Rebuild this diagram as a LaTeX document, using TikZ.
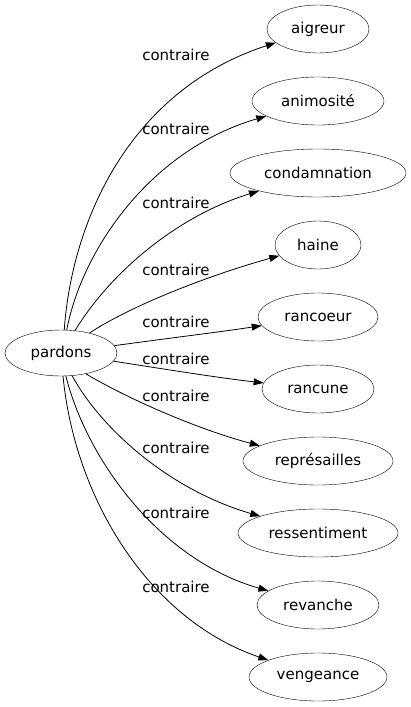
\documentclass[tikz,border=0pt]{standalone}
\usepackage{fontspec}
\setmainfont{DejaVu Sans}
\usetikzlibrary{shapes.geometric,arrows.meta}
\begin{document}
\begin{tikzpicture}[x=1pt,y=-1pt,
  word/.style={draw,ellipse,inner sep=0pt,minimum height=48pt,font=\fontsize{15}{18}\selectfont},
  lab/.style={inner sep=0pt,font=\fontsize{15}{18}\selectfont},
  rel/.style={draw,line width=0.8pt,-{Triangle[length=10pt,width=7pt]}}]
\useasboundingbox (0,0) rectangle (411,707);
\node[word,minimum width=112pt,minimum height=46pt] (pardons) at (61,353) {pardons};
\node[word,minimum width=102pt] (aigreur) at (318,29) {aigreur};
\node[word,minimum width=132pt] (animosite) at (318,101) {animosité};
\node[word,minimum width=176pt] (condamnation) at (318,173) {condamnation};
\node[word,minimum width=86pt] (haine) at (318,245) {haine};
\node[word,minimum width=120pt] (rancoeur) at (318,317) {rancoeur};
\node[word,minimum width=112pt] (rancune) at (318,389) {rancune};
\node[word,minimum width=150pt] (represailles) at (318,461) {représailles};
\node[word,minimum width=160pt] (ressentiment) at (318,533) {ressentiment};
\node[word,minimum width=122pt] (revanche) at (318,605) {revanche};
\node[word,minimum width=138pt] (vengeance) at (318,677) {vengeance};
\node[lab] (l1) at (176,55) {contraire};
\node[lab] (l2) at (176,129) {contraire};
\node[lab] (l3) at (176,203) {contraire};
\node[lab] (l4) at (176,270) {contraire};
\node[lab] (l5) at (176,322) {contraire};
\node[lab] (l6) at (176,359) {contraire};
\node[lab] (l7) at (176,396) {contraire};
\node[lab] (l8) at (176,448) {contraire};
\node[lab] (l9) at (176,513) {contraire};
\node[lab] (l10) at (176,587) {contraire};
\draw[rel] (pardons.{82}) .. controls (72,220) and (130,90) .. (aigreur);
\draw[rel] (pardons.{76}) .. controls (82,250) and (150,150) .. (animosite);
\draw[rel] (pardons.{58}) .. controls (112,270) and (180,215) .. (condamnation);
\draw[rel] (pardons.{35}) .. controls (132,305) and (210,275) .. (haine);
\draw[rel] (pardons) .. controls (170,338) and (220,332) .. (rancoeur);
\draw[rel] (pardons) .. controls (170,370) and (220,378) .. (rancune);
\draw[rel] (pardons.{-40}) .. controls (130,400) and (200,430) .. (represailles);
\draw[rel] (pardons.{-64}) .. controls (102,430) and (170,490) .. (ressentiment);
\draw[rel] (pardons.{-78}) .. controls (87,460) and (160,560) .. (revanche);
\draw[rel] (pardons.{-85}) .. controls (75,500) and (150,620) .. (vengeance);
\end{tikzpicture}
\end{document}
